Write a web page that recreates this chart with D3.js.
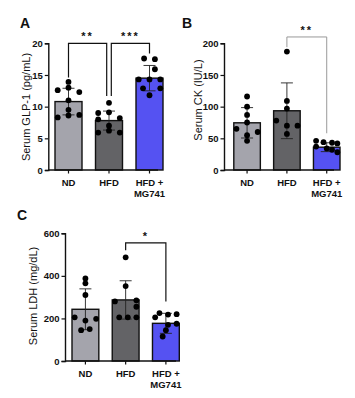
<!DOCTYPE html>
<html><head><meta charset="utf-8">
<script src="https://cdn.jsdelivr.net/npm/d3@7"></script>
<style>body{margin:0;background:#fff}svg{display:block}text{font-family:"Liberation Sans",Arial,sans-serif}</style>
</head><body><svg id="c" width="355" height="398"></svg>
<script>
const groups = ["ND", "HFD", "HFD + MG741"];
const groupColors = ["#a4a4ac", "#636366", "#5552f2"];

// Panel A: Serum GLP-1 (pg/mL)
const glpMean = [10.8, 7.8, 14.5];
const glpSD = [2.1, 1.5, 2.0];
const glpND = [13.9, 13.0, 12.3, 12.6, 11.0, 9.5, 8.3, 8.7, 8.6];
const glpHFD = [10.6, 9.0, 9.1, 8.2, 8.0, 7.0, 5.9, 6.2, 5.9];
const glpMG = [17.6, 17.5, 15.9, 14.3, 14.3, 14.3, 12.9, 12.9, 11.8];
const glpTicks = [0, 5, 10, 15, 20];

// Panel B: Serum CK (IU/L)
const ckMean = [74.5, 93.5, 36];
const ckSD = [24, 44, 7];
const ckND = [116, 100, 87, 75, 65, 60, 55, 46];
const ckHFD = [187, 109, 97, 78, 70, 70, 57];
const ckMG = [46, 44, 43, 42, 37, 34, 32, 28];
const ckTicks = [0, 50, 100, 150, 200];

// Panel C: Serum LDH (mg/dL)
const ldhMean = [243, 287, 177];
const ldhSD = [96, 90, 47];
const ldhND = [388, 365, 310, 205, 198, 190, 145, 150];
const ldhHFD = [487, 352, 280, 285, 255, 205, 205, 205];
const ldhMG = [225, 218, 220, 205, 175, 170, 145, 115];
const ldhTicks = [0, 200, 400, 600];

// jitter offsets (layout only, in units of bar width fraction)
const jitA = [[0,0,1,-1,0,0,-1,1,0],[0,-1,0,1,-1,0,-1,0,1],[-0.5,0.5,0.5,-1,0,1,-0.6,1,0]];
const jitB = [[0,0,0,0,-1,1,0,0],[0,0,0,-1,1,0,0],[-1,-0.3,0.5,1,-1,0,0.5,1]];
const jitC = [[0,0,0,-1,1,0,-0.4,0.4],[0,0,-1,1,1,-0.6,0.2,1],[-0.6,0.2,1,-1,1,0.2,0,-0.3]];

const svg = d3.select("#c");

function panel(o) {
  const g = svg.append("g");
  const x = d3.scaleBand().domain(groups).range(o.xr).paddingInner(1/3).paddingOuter(0);
  const y = d3.scaleLinear().domain(o.domain).range(o.yr);
  const bw = x.bandwidth();
  groups.forEach((k, i) => {
    g.append("rect").attr("x", x(k)).attr("y", y(o.mean[i])).attr("width", bw)
      .attr("height", y(0) - y(o.mean[i])).attr("fill", groupColors[i])
      .attr("stroke", "#111").attr("stroke-width", 1.4);
  });
  groups.forEach((k, i) => {
    const cx = x(k) + bw / 2, t = y(o.mean[i] + o.sd[i]), b = y(o.mean[i] - o.sd[i]);
    g.append("line").attr("x1", cx).attr("x2", cx).attr("y1", t).attr("y2", b).attr("stroke", "#222").attr("stroke-width", 0.9);
    [t, b].forEach(v => g.append("line").attr("x1", cx - 6).attr("x2", cx + 6).attr("y1", v).attr("y2", v).attr("stroke", "#222").attr("stroke-width", 0.9));
  });
  groups.forEach((k, i) => {
    const cx = x(k) + bw / 2;
    o.pts[i].forEach((v, j) => {
      g.append("circle").attr("cx", cx + o.jit[i][j] * bw * 0.4).attr("cy", y(v)).attr("r", 2.9).attr("fill", "#000");
    });
  });
  const ya = g.append("g").attr("transform", `translate(${o.ax},0)`)
    .call(d3.axisLeft(y).tickValues(o.ticks).tickSize(3.5).tickPadding(2));
  ya.select(".domain").attr("stroke", "#111").attr("stroke-width", 1.4);
  ya.selectAll(".tick line").attr("stroke", "#111").attr("stroke-width", 1.2);
  ya.selectAll("text").attr("font-size", 9.5).attr("font-weight", "bold").attr("fill", "#111")
    .attr("font-family", "'Liberation Sans',Arial,sans-serif");
  const y0 = y(0);
  g.append("line").attr("x1", o.ax).attr("x2", o.xend).attr("y1", y0).attr("y2", y0).attr("stroke", "#111").attr("stroke-width", 1.4);
  groups.forEach((k, i) => {
    const cx = x(k) + bw / 2;
    g.append("line").attr("x1", cx).attr("x2", cx).attr("y1", y0).attr("y2", y0 + 3.5).attr("stroke", "#111").attr("stroke-width", 1.2);
    const lines = k === "HFD + MG741" ? ["HFD +", "MG741"] : [k];
    lines.forEach((s, li) => g.append("text").attr("x", cx).attr("y", y0 + 16 + li * 10.5)
      .attr("text-anchor", "middle").attr("font-size", 9.5).attr("font-weight", "bold").attr("fill", "#111").text(s));
  });
  g.append("text").attr("transform", `translate(${o.titleX},${o.titleY}) rotate(-90)`)
    .attr("text-anchor", "middle").attr("font-size", 11).attr("fill", "#111").text(o.title);
  g.append("text").attr("x", o.lx).attr("y", o.ly).attr("font-size", 14).attr("font-weight", "bold").attr("fill", "#111").text(o.letter);
  o.brackets.forEach(br => {
    const xa = x(groups[br.a]) + bw / 2 + br.oa, xb = x(groups[br.b]) + bw / 2 + br.ob, yt = y(br.top);
    g.append("path").attr("d", `M${xa},${y(br.ya)}V${yt}H${xb}V${y(br.yb)}`)
      .attr("fill", "none").attr("stroke", br.color).attr("stroke-width", br.w);
    g.append("text").attr("x", (xa + xb) / 2).attr("y", yt - 3).attr("text-anchor", "middle")
      .attr("font-size", 11).attr("font-weight", "bold").attr("fill", "#111").attr("letter-spacing", 2).text(br.label);
  });
}

panel({letter: "A", lx: 20, ly: 28.3, ax: 48.3, xr: [55, 163], xend: 158, yr: [170, 43.3], domain: [0, 20],
  ticks: glpTicks, mean: glpMean, sd: glpSD, pts: [glpND, glpHFD, glpMG], jit: jitA,
  title: "Serum GLP-1 (pg/mL)", titleX: 29.5, titleY: 107,
  brackets: [{a: 0, b: 1, oa: 0, ob: -2.3, top: 20, ya: 14.6, yb: 11.7, label: "**", color: "#111", w: 1.2},
             {a: 2, b: 1, oa: 0, ob: 2.3, top: 20, ya: 18.4, yb: 11.7, label: "***", color: "#111", w: 1.2}]});

panel({letter: "B", lx: 182, ly: 28.3, ax: 224, xr: [233.8, 340], xend: 334, yr: [170, 43.3], domain: [0, 200],
  ticks: ckTicks, mean: ckMean, sd: ckSD, pts: [ckND, ckHFD, ckMG], jit: jitB,
  title: "Serum CK (IU/L)", titleX: 201.5, titleY: 100,
  brackets: [{a: 1, b: 2, oa: 0, ob: 0, top: 210, ya: 194, yb: 58, label: "**", color: "#999", w: 1}]});

panel({letter: "C", lx: 17, ly: 220, ax: 65, xr: [72, 179.3], xend: 176, yr: [361, 233.3], domain: [0, 600],
  ticks: ldhTicks, mean: ldhMean, sd: ldhSD, pts: [ldhND, ldhHFD, ldhMG], jit: jitC,
  title: "Serum LDH (mg/dL)", titleX: 37, titleY: 296,
  brackets: [{a: 1, b: 2, oa: 0, ob: 0, top: 555, ya: 520, yb: 280, label: "*", color: "#111", w: 1.2}]});
</script></body></html>
